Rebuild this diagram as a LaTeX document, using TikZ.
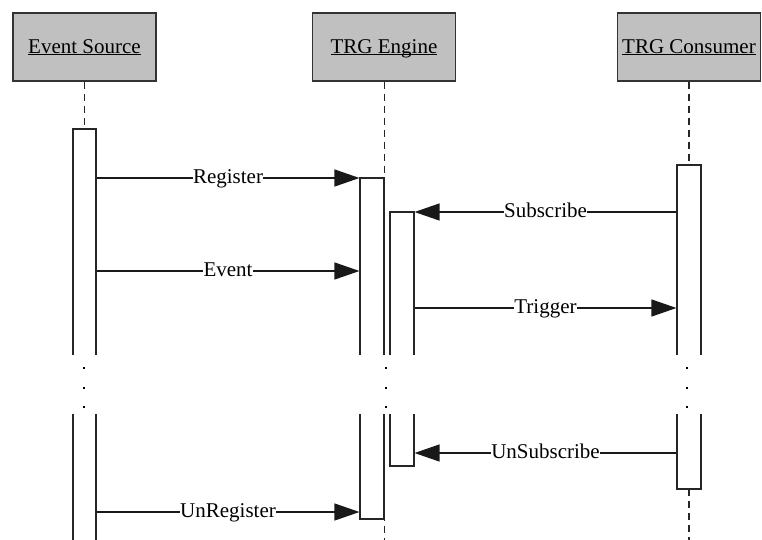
\documentclass[tikz,border=0pt]{standalone}
\usepackage{fontspec}
\setmainfont{Liberation Serif}
\usetikzlibrary{arrows.meta}
\definecolor{boxgray}{HTML}{C0C0C0}
\begin{document}
\begin{tikzpicture}[x=1pt,y=-1pt,
  actor/.style={draw=black!80, fill=boxgray, line width=1.2pt, minimum width=143pt, minimum height=68pt, inner sep=0pt, text height=12pt, text depth=0pt, font=\fontsize{21}{25}\selectfont},
  bar/.style={draw=black!85, fill=white, line width=1.1pt, minimum width=23pt, inner sep=0pt},
  life/.style={draw=black!85, line width=1.1pt, dash pattern=on 7pt off 5pt},
  msg/.style={draw=black!90, line width=1.2pt, -{Triangle[length=25pt,width=17pt]}},
  lbl/.style={fill=white, inner sep=0.5pt, anchor=base, yshift=-5pt, font=\fontsize{21}{25}\selectfont},
  dot/.style={fill=black, minimum size=2pt, inner sep=0pt}]
\clip (0,0) rectangle (762,539);
\fill[white] (0,0) rectangle (762,539);
% actors
\node[actor] (es) at (84.5,47) {\underline{\smash{Event Source}}};
\node[actor] (eng) at (384,47) {\underline{\smash{TRG Engine}}};
\node[actor] (con) at (689,47) {\underline{\smash{TRG Consumer}}};
% lifeline ends
\coordinate (esend) at (84.5,129);
\coordinate (engend) at (384.5,545);
\coordinate (conA) at (689,165);
\coordinate (conB) at (689,489);
\coordinate (conC) at (689,545);
\draw[life] (es.south) -- (esend);
\draw[life] (eng.south -| engend) -- (engend);
\draw[life] (con.south) -- (conA);
\draw[life] (conB) -- (conC);
% activation bars
\node[bar, minimum height=420pt] (esbar) at (84.5,339) {};
\node[bar, minimum width=24pt, minimum height=341pt] (eb1) at (372,348.5) {};
\draw[life] (384.5,178) -- (384.5,520);
\node[bar, minimum width=24pt, minimum height=254pt] (eb2) at (402,339) {};
\node[bar, minimum width=24pt, minimum height=324pt] (cb) at (689,327) {};
% message rows
\coordinate (yReg) at (0,178);
\coordinate (ySub) at (0,212);
\coordinate (yEvt) at (0,271);
\coordinate (yTrg) at (0,308);
\coordinate (yUns) at (0,453);
\coordinate (yUnr) at (0,512);
\draw[msg] (esbar.east |- yReg) -- node[lbl]{Register} (eb1.west |- yReg);
\draw[msg] (cb.west |- ySub) -- node[lbl]{Subscribe} (eb2.east |- ySub);
\draw[msg] (esbar.east |- yEvt) -- node[lbl]{Event} (eb1.west |- yEvt);
\draw[msg] (eb2.east |- yTrg) -- node[lbl]{Trigger} (cb.west |- yTrg);
\draw[msg] (cb.west |- yUns) -- node[lbl]{UnSubscribe} (eb2.east |- yUns);
\draw[msg] (esbar.east |- yUnr) -- node[lbl]{UnRegister} (eb1.west |- yUnr);
% gap
\fill[white] (0,355) rectangle (762,414);
\foreach \y in {368,388,407} {
  \node[dot] at (84,\y) {};
  \node[dot] at (386,\y) {};
  \node[dot] at (687,\y) {};
}
\end{tikzpicture}
\end{document}
